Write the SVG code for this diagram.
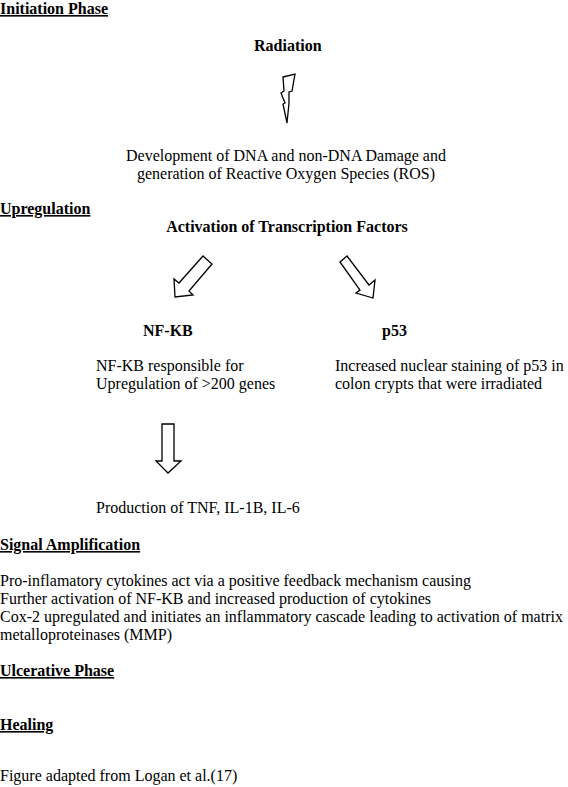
<svg xmlns="http://www.w3.org/2000/svg" width="568" height="787" viewBox="0 0 568 787">
<style>
text{font-family:"Liberation Serif","Times New Roman",serif;font-size:16px;fill:#000}
.b{font-weight:bold}
.u{font-weight:bold;text-decoration:underline}
.c{text-anchor:middle}
.arr{fill:#fff;stroke:#000;stroke-width:1.3;stroke-linejoin:miter}
</style>
<rect width="568" height="787" fill="#fff"/>
<g id="headings">
<text class="u" x="0" y="14">Initiation Phase</text>
<text class="u" x="0" y="214">Upregulation</text>
<text class="u" x="0" y="550">Signal Amplification</text>
<text class="u" x="0" y="676">Ulcerative Phase</text>
<text class="u" x="0" y="730">Healing</text>
</g>
<g id="radiation"><text class="b" x="254" y="51">Radiation</text></g>
<g id="damage">
<text class="c" x="286" y="161">Development of DNA and non-DNA Damage and</text>
<text class="c" x="286" y="179">generation of Reactive Oxygen Species (ROS)</text>
</g>
<g id="activation"><text class="b c" x="287" y="232">Activation of Transcription Factors</text></g>
<g id="nfkb">
<text class="b" x="143" y="336">NF-KB</text>
<text x="96" y="371">NF-KB responsible for</text>
<text x="96" y="389">Upregulation of &gt;200 genes</text>
</g>
<g id="p53">
<text class="b" x="382" y="336">p53</text>
<text x="335" y="371">Increased nuclear staining of p53 in</text>
<text x="335" y="389">colon crypts that were irradiated</text>
</g>
<g id="production"><text x="96" y="513">Production of TNF, IL-1B, IL-6</text></g>
<g id="amplification">
<text x="0" y="586">Pro-inflamatory cytokines act via a positive feedback mechanism causing</text>
<text x="0" y="604">Further activation of NF-KB and increased production of cytokines</text>
<text x="0" y="622">Cox-2 upregulated and initiates an inflammatory cascade leading to activation of matrix</text>
<text x="0" y="640">metalloproteinases (MMP)</text>
</g>
<g id="credit"><text x="0" y="781">Figure adapted from Logan et al.(17)</text></g>
<g id="connectors">
<polygon class="arr" points="283,77 295,74 292,91 289,92 289,103 287,123 283,104 285,103 281,93 284,91"/>
<polygon class="arr" points="203,256 212,264 189,291 193,295 175,297 174,279 179,283"/>
<polygon class="arr" points="340,262 347,256 369,285 375,280 373,298 356,293 360,290"/>
<polygon class="arr" points="162,424 174,424 174,461 181,461 168,473 156,461 162,461"/>
</g>
</svg>
